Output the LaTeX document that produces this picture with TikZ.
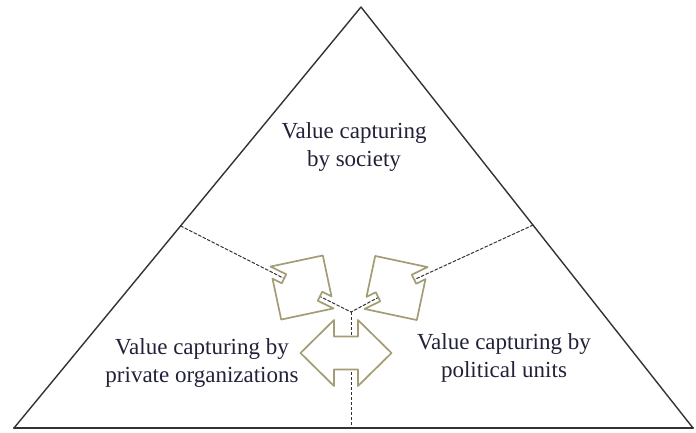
\documentclass[tikz,border=0pt]{standalone}
\usepackage{fontspec}
\setmainfont{Liberation Serif}
\usetikzlibrary{calc}
\definecolor{ttttzz}{rgb}{0.2,0.2,0.2}
\definecolor{aaaa77}{rgb}{0.64,0.61,0.46}
\definecolor{qqqqtt}{rgb}{0.13,0.13,0.22}
\tikzset{
  rim/.style={line width=1.4pt,color=ttttzz},
  tie/.style={dash pattern=on 3pt off 2pt,line width=1pt,color=ttttzz},
  piece/.style={line width=1.7pt,color=aaaa77,fill=white},
  areatext/.style={text=qqqqtt,align=center,font=\fontsize{23}{28}\selectfont},
  slotbox/.pic={
    \draw[piece] (37.48,5) -- (-4.66,37.92) -- (-30.37,5) -- (-20,5) -- (-20,-5) -- (-37.48,-5)
      -- (4.66,-37.92) -- (30.37,-5) -- (20,-5) -- (20,5) -- cycle;
  },
  dualarrow/.pic={
    \draw[piece] (-12,-33) -- (-12,-16.5) -- (12,-16.5) -- (12,-33) -- (45.5,0) -- (12,33)
      -- (12,16.5) -- (-12,16.5) -- (-12,33) -- (-45.5,0) -- cycle;
  }
}
\begin{document}
\begin{tikzpicture}[line cap=round,line join=round,x=1pt,y=-1pt]
      \useasboundingbox (0,0) rectangle (696,432);
      \coordinate (apex) at (361,7);
      \coordinate (bl) at (14,428);
      \coordinate (br) at (693,428);
      \coordinate (ls) at ($(apex)!0.52!(bl)$);
      \coordinate (rs) at ($(apex)!0.518!(br)$);
      \coordinate (hub) at (351,312);
      \coordinate (bs) at ($(bl)!(hub)!(br)$);
      \coordinate (lc) at (302,287.5);
      \coordinate (rc) at (396,288);
      \coordinate (bc) at (346,353);
      \draw[rim] (apex) -- (bl) -- (br) -- cycle;
      \draw[rim,line width=2.2pt] (bl) -- (br);
      \draw[tie] (ls) -- (lc) -- (hub);
      \draw[tie] (rs) -- (rc) -- (hub);
      \draw[tie,line cap=butt] (hub) -- (bs);
      \pic[rotate=-26] at (lc) {slotbox};
      \pic[xscale=-1,rotate=-26] at (rc) {slotbox};
      \pic at (bc) {dualarrow};
      \node[areatext] (soc) at (354,147) {Value capturing\\by society};
      \node[areatext] (org) at (202,363) {Value capturing by\\private organizations};
      \node[areatext] (pol) at (504,358) {Value capturing by\\political units};
\end{tikzpicture}
\end{document}
